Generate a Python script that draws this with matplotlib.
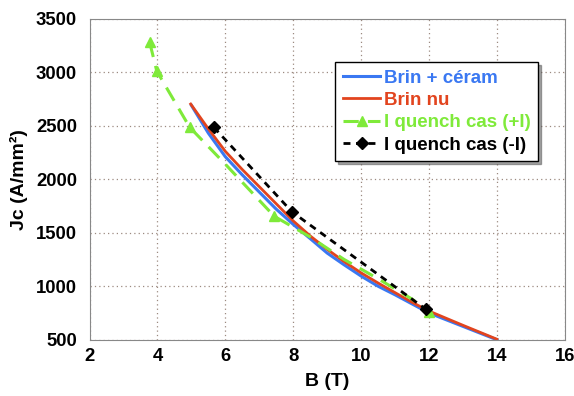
import numpy as np
import matplotlib.pyplot as plt

# Brin + céram (blue)
b_ceram = [5.0, 5.5, 6.0, 6.5, 7.0, 7.5, 8.0, 8.5, 9.0, 9.5, 10.0, 10.5, 11.0, 11.5, 12.0, 13.0, 14.0]
jc_ceram = [2690, 2430, 2210, 2040, 1880, 1720, 1578, 1445, 1310, 1200, 1095, 1000, 920, 835, 750, 625, 500]

# Brin nu (red)
b_nu = [4.98, 5.5, 6.0, 6.5, 7.0, 7.5, 8.0, 8.5, 9.0, 9.5, 10.0, 10.5, 11.0, 11.5, 12.0, 13.0, 14.0]
jc_nu = [2702, 2470, 2260, 2090, 1930, 1770, 1610, 1470, 1345, 1230, 1125, 1030, 940, 850, 768, 635, 505]

# I quench cas (+I) (green)
b_plus = [3.77, 3.98, 4.95, 6.0, 7.44, 8.5, 9.5, 10.5, 11.5, 12.0]
jc_plus = [3280, 3010, 2485, 2140, 1654, 1460, 1250, 1070, 880, 760]
plus_marks = [0, 1, 2, 4, 9]

# I quench cas (-I) (black)
b_minus = [5.66, 7.96, 11.9]
jc_minus = [2485, 1696, 787]

xticks = [2, 4, 6, 8, 10, 12, 14, 16]
yticks = [500, 1000, 1500, 2000, 2500, 3000, 3500]

blue = '#3a78f2'
red = '#e2441e'
green = '#7fea3a'

plt.rcParams['font.family'] = ['Liberation Sans', 'DejaVu Sans']
plt.rcParams['font.weight'] = 'bold'

fig = plt.figure(figsize=(5.74, 3.96), dpi=100)
ax = fig.add_axes([0.156, 0.142, 0.828, 0.811])

ax.plot(b_ceram, jc_ceram, color=blue, lw=2.2, label='Brin + céram')
ax.plot(b_nu, jc_nu, color=red, lw=2.0, label='Brin nu')
ax.plot(b_plus, jc_plus, color=green, lw=2.2, ls=(0, (5, 3)), marker='^', ms=7,
        markevery=plus_marks, label='I quench cas (+I)')
ax.plot(b_minus, jc_minus, color='black', lw=2.0, ls=(0, (2.5, 2)), marker='D', ms=6,
        label='I quench cas (-I)')

ax.set_xlim(2, 16)
ax.set_ylim(500, 3500)
ax.set_xticks(xticks)
ax.set_yticks(yticks)
ax.tick_params(length=0, labelsize=13.3)
ax.tick_params(axis='y', pad=9)
ax.tick_params(axis='x', pad=6)
for lab in ax.get_xticklabels() + ax.get_yticklabels():
    lab.set_fontweight('bold')
ax.grid(True, ls=(0, (1, 2.5)), color='#9c8a80', lw=0.9)
for s in ax.spines.values():
    s.set_color('#888888')

ax.set_xlabel('B (T)', fontsize=14, fontweight='bold', labelpad=6)
ax.set_ylabel('Jc (A/mm²)', fontsize=14, fontweight='bold', labelpad=6)

leg = ax.legend(loc='upper left', bbox_to_anchor=(0.517, 0.865),
                prop={'weight': 'bold', 'size': 13.5}, frameon=True, fancybox=False,
                shadow=True, handlelength=2.0, handletextpad=0.2, borderpad=0.4,
                labelspacing=0.28, borderaxespad=0)
leg.get_frame().set_edgecolor('black')
for txt, c in zip(leg.get_texts(), [blue, red, green, 'black']):
    txt.set_color(c)

fig.savefig('out.png', dpi=100)
